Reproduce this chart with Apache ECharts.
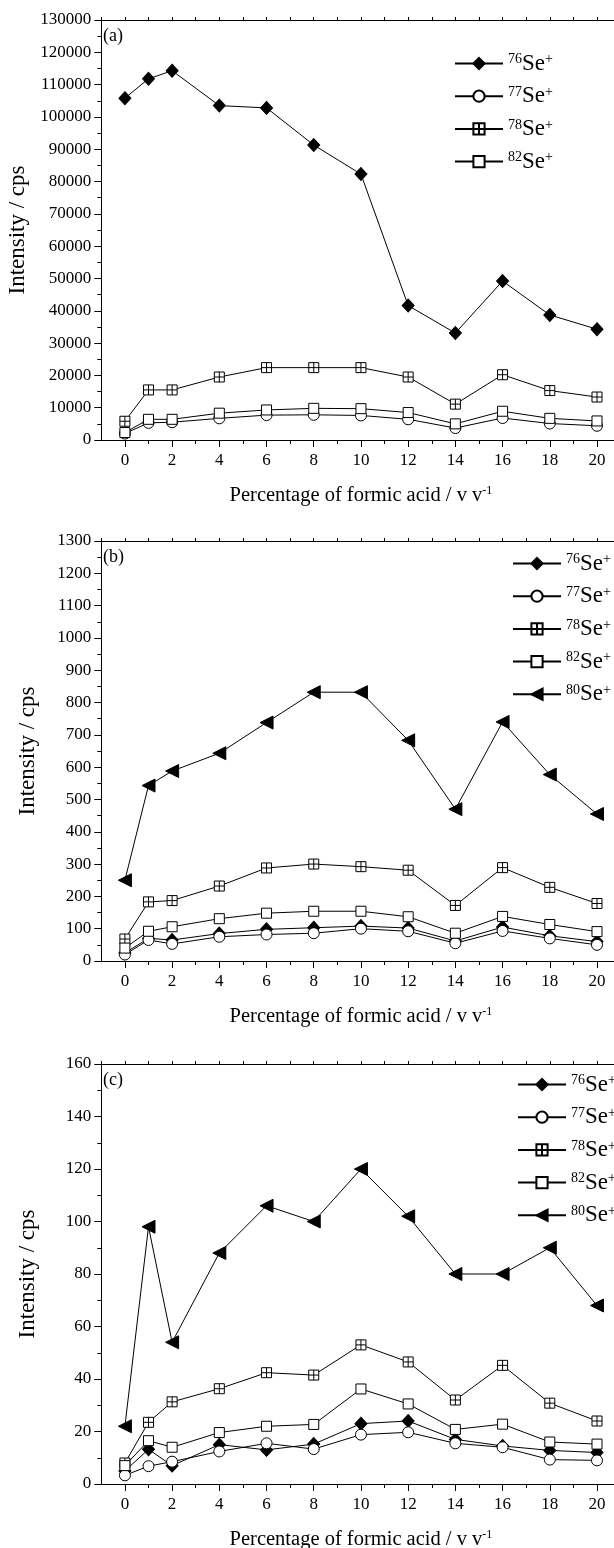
<!DOCTYPE html>
<html>
<head>
<meta charset="utf-8">
<script src="https://cdn.jsdelivr.net/npm/echarts@6/dist/echarts.min.js"></script>
<style>
html,body{margin:0;padding:0;background:#fff;}
#chart{width:614px;height:1548px;}
</style>
</head>
<body>
<div id="chart"></div>
<script>
// ---------- data ----------
const xValues = [0, 1, 2, 4, 6, 8, 10, 12, 14, 16, 18, 20];
const xTickLabels = [0, 2, 4, 6, 8, 10, 12, 14, 16, 18, 20];
const xMinorTicks = [1, 3, 5, 7, 9, 11, 13, 15, 17, 19];

const seriesNames = ['76Se+', '77Se+', '78Se+', '82Se+', '80Se+'];

// panel (a)
const aSe76 = [105800, 111800, 114300, 103500, 102800, 91300, 82300, 41600, 33100, 49200, 38700, 34300];
const aSe77 = [2000, 5300, 5500, 6700, 7700, 7800, 7600, 6400, 3700, 6800, 5100, 4400];
const aSe78 = [5800, 15500, 15500, 19500, 22400, 22400, 22400, 19500, 11100, 20200, 15300, 13300];
const aSe82 = [2300, 6400, 6400, 8300, 9300, 9800, 9700, 8500, 5000, 8900, 6700, 5900];

// panel (b)
const bSe76 = [25, 70, 65, 85, 98, 103, 108, 102, 62, 105, 78, 60];
const bSe77 = [20, 65, 53, 75, 82, 86, 100, 92, 55, 93, 70, 50];
const bSe78 = [68, 183, 187, 232, 288, 300, 292, 281, 172, 289, 228, 178];
const bSe82 = [40, 92, 106, 131, 148, 154, 154, 137, 86, 138, 113, 91];
const bSe80 = [250, 543, 588, 643, 738, 832, 832, 683, 470, 740, 577, 455];

// panel (c)
const cSe76 = [5, 13.2, 7, 15, 13, 15.2, 23, 24, 17, 14.5, 12.8, 12];
const cSe77 = [3.3, 6.8, 8.5, 12.4, 15.5, 13.3, 18.8, 19.7, 15.5, 14, 9.3, 9];
const cSe78 = [8, 23.5, 31.3, 36.3, 42.4, 41.5, 53, 46.5, 32, 45.2, 30.8, 24];
const cSe82 = [7, 16.5, 14, 19.6, 22, 22.7, 36.2, 30.5, 20.8, 22.8, 16, 15.2];
const cSe80 = [22, 98, 54, 88, 106, 100, 120, 102, 80, 80, 90, 68];

// axis ranges
const yMax = [130000, 1300, 160];
const yStep = [10000, 100, 20];
const panelLabels = ['(a)', '(b)', '(c)'];
const xTitle = 'Percentage of formic acid / v v';
const yTitle = 'Intensity / cps';

// ---------- layout ----------
const FONT = 'Liberation Serif';
const gridTops = [20, 541, 1064];
const gridH = 420;
const gridLeft = 101.3;
const gridRight = -6.6;
const legendLeft = [454, 512, 517];
const legendTop = [52, 552, 1073];

const panels = [
  {Se76: aSe76, Se77: aSe77, Se78: aSe78, Se82: aSe82},
  {Se76: bSe76, Se77: bSe77, Se78: bSe78, Se82: bSe82, Se80: bSe80},
  {Se76: cSe76, Se77: cSe77, Se78: cSe78, Se82: cSe82, Se80: cSe80}
];

const styles = {
  Se76: {name: seriesNames[0], symbol: 'diamond', symbolSize: [12, 13], fill: '#000'},
  Se77: {name: seriesNames[1], symbol: 'circle', symbolSize: 11, fill: '#fff'},
  Se78: {name: seriesNames[2], symbol: 'path://M0,0H10V10H0ZM5,0V10M0,5H10', symbolSize: 10, fill: '#fff'},
  Se82: {name: seriesNames[3], symbol: 'rect', symbolSize: 10, fill: '#fff'},
  Se80: {name: seriesNames[4], symbol: 'triangle', symbolSize: [13, 13], fill: '#000', rotate: 90}
};

const grids = [], xAxes = [], yAxes = [], series = [], legends = [], graphics = [];

panels.forEach((p, i) => {
  grids.push({left: gridLeft, right: gridRight, top: gridTops[i], height: gridH, outerBoundsMode: 'none', containLabel: false});
  // main bottom x axis
  xAxes.push({
    type: 'value', gridIndex: i, position: 'bottom', min: -1, max: 21,
    axisLine: {show: true, onZero: false, lineStyle: {color: '#000', width: 1}},
    axisTick: {show: true, inside: false, length: 7, customValues: xTickLabels, lineStyle: {color: '#000'}},
    axisLabel: {show: true, customValues: xTickLabels, margin: 12, color: '#000', fontFamily: FONT, fontSize: 17},
    splitLine: {show: false},
    name: xTitle + '{sup|-1}', nameLocation: 'middle', nameGap: 45,
    nameTextStyle: {color: '#000', fontFamily: FONT, fontSize: 20.5,
      rich: {sup: {fontFamily: FONT, fontSize: 12, verticalAlign: 'top', lineHeight: 10, color: '#000'}}}
  });
  // minor ticks bottom
  xAxes.push({
    type: 'value', gridIndex: i, position: 'bottom', min: -1, max: 21,
    axisLine: {show: false, onZero: false},
    axisTick: {show: true, inside: false, length: 4, customValues: xMinorTicks, lineStyle: {color: '#000'}},
    axisLabel: {show: false}, splitLine: {show: false}
  });
  // top axis
  xAxes.push({
    type: 'value', gridIndex: i, position: 'top', min: -1, max: 21, interval: 1,
    axisLine: {show: true, onZero: false, lineStyle: {color: '#000', width: 1}},
    axisTick: {show: true, inside: false, length: 3, lineStyle: {color: '#000'}},
    axisLabel: {show: false}, splitLine: {show: false}
  });
  yAxes.push({
    type: 'value', gridIndex: i, min: 0, max: yMax[i], interval: yStep[i],
    axisLine: {show: true, onZero: false, lineStyle: {color: '#000', width: 1}},
    axisTick: {show: true, inside: false, length: 7, lineStyle: {color: '#000'}},
    minorTick: {show: true, splitNumber: 2, length: 4, lineStyle: {color: '#000'}},
    axisLabel: {show: true, margin: 10, color: '#000', fontFamily: FONT, fontSize: 17,
      formatter: v => String(v)},
    splitLine: {show: false},
    name: yTitle, nameLocation: 'middle', nameGap: 62, nameRotate: 90,
    nameTextStyle: {color: '#000', fontFamily: FONT, fontSize: 23}
  });

  const keys = Object.keys(p);
  const legendNames = [];
  keys.forEach(k => {
    const st = styles[k];
    legendNames.push(st.name);
    series.push({
      type: 'line', name: st.name, xAxisIndex: i * 3, yAxisIndex: i,
      data: xValues.map((x, j) => [x, p[k][j]]),
      symbol: st.symbol, symbolSize: st.symbolSize, symbolRotate: st.rotate || 0,
      showAllSymbol: true, animation: false,
      lineStyle: {color: '#000', width: 1},
      itemStyle: {color: st.fill, borderColor: '#000', borderWidth: 1},
      emphasis: {disabled: true}
    });
  });
  legends.push({
    orient: 'vertical', left: legendLeft[i], top: legendTop[i], padding: 0,
    data: legendNames, itemWidth: 48, itemHeight: 14, itemGap: 9.7,
    selectedMode: false, symbolRotate: 'inherit',
    formatter: function (name) {
      const num = name.slice(0, 2);
      return '{s|' + num + '}{b|Se}{p|+}';
    },
    textStyle: {
      color: '#000', fontFamily: FONT,
      rich: {
        s: {fontFamily: FONT, fontSize: 14, color: '#000', verticalAlign: 'top', lineHeight: 12},
        b: {fontFamily: FONT, fontSize: 23, color: '#000', verticalAlign: 'middle', lineHeight: 22},
        p: {fontFamily: FONT, fontSize: 14, color: '#000', verticalAlign: 'top', lineHeight: 7}
      }
    }
  });
  graphics.push({
    type: 'text', left: 103, top: gridTops[i] + 7,
    style: {text: panelLabels[i], fill: '#000', font: '18px "Liberation Serif"'}
  });
});

const chart = echarts.init(document.getElementById('chart'), null, {renderer: 'canvas'});
chart.setOption({
  animation: false,
  backgroundColor: '#fff',
  grid: grids,
  xAxis: xAxes,
  yAxis: yAxes,
  series: series,
  legend: legends,
  graphic: graphics
});
</script>
</body>
</html>
